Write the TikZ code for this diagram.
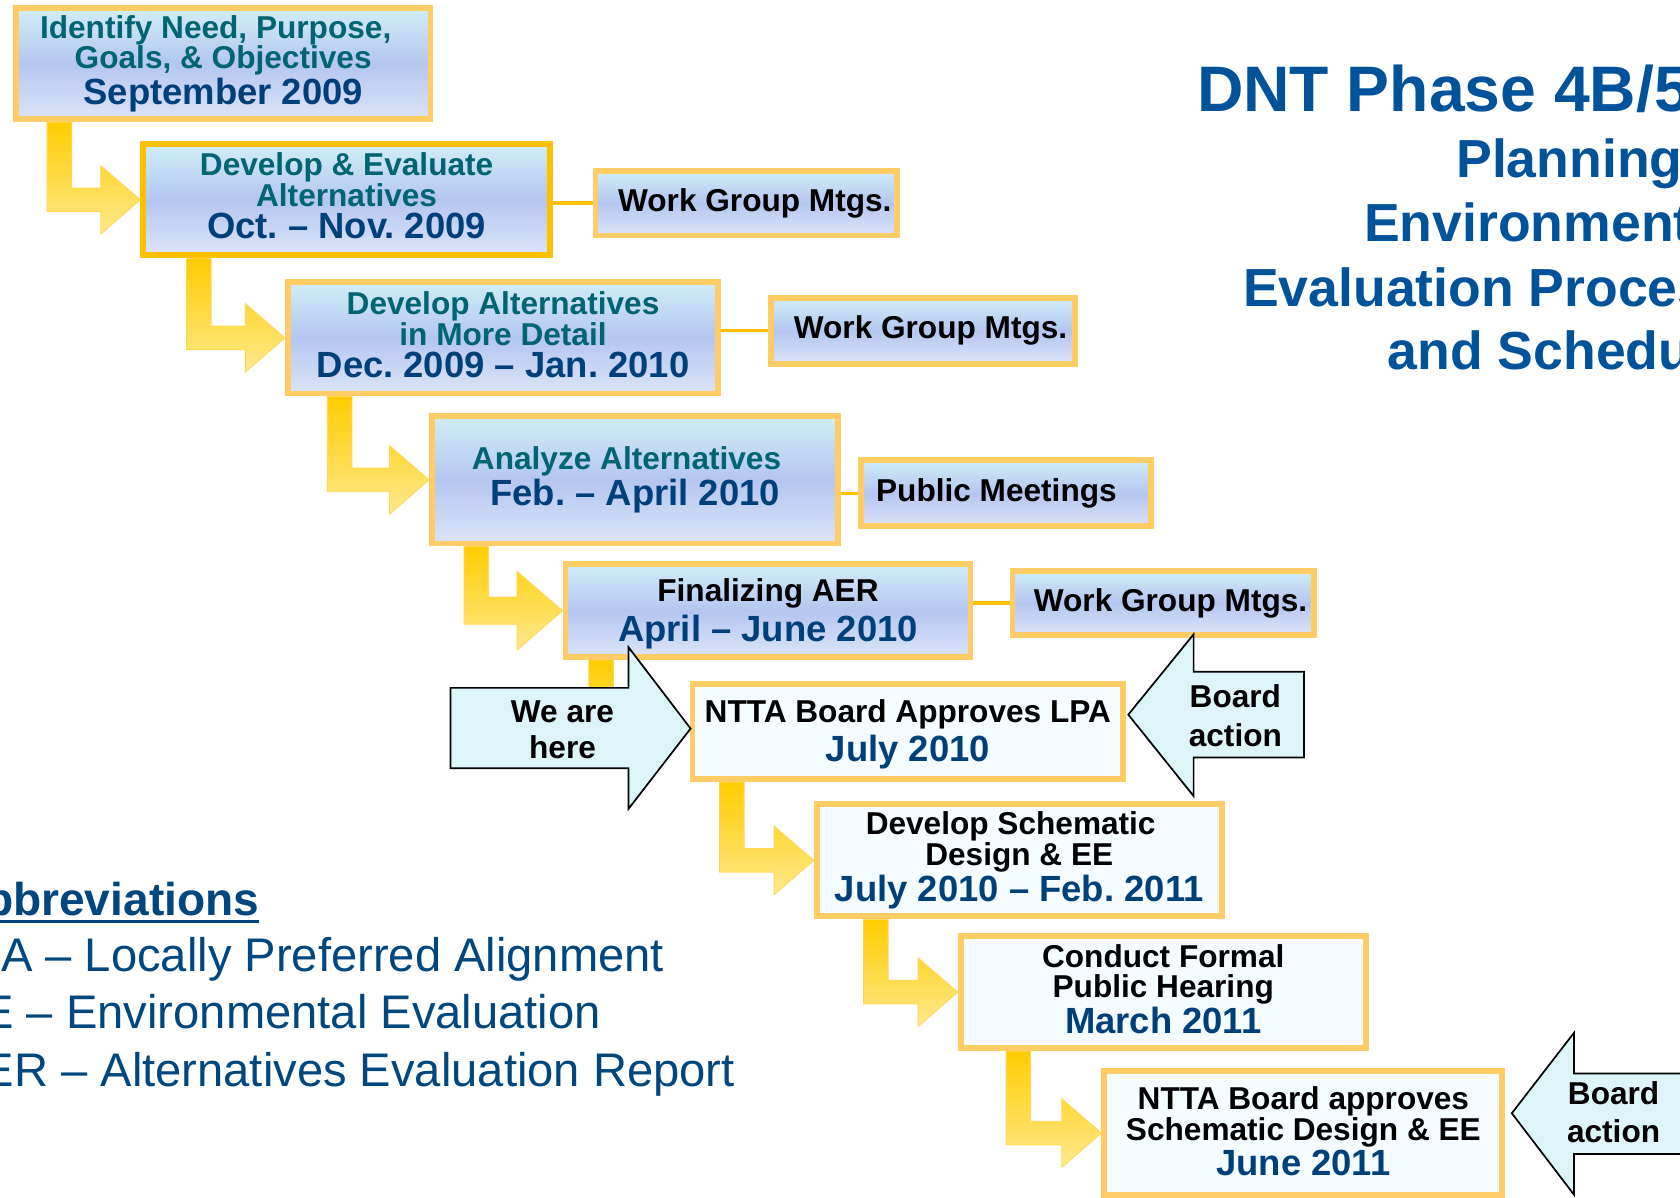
\documentclass[tikz,border=0pt]{standalone}
\usepackage{fontspec}
\setmainfont{Liberation Sans}
\usepackage{tikz}
\usetikzlibrary{calc, backgrounds}
\frenchspacing

\definecolor{boxorange}{RGB}{255,204,102}
\definecolor{boxgold}{RGB}{255,192,0}
\definecolor{steptop}{RGB}{208,238,248}
\definecolor{stepmid}{RGB}{180,198,240}
\definecolor{stepbot}{RGB}{220,228,248}
\definecolor{lowfill}{RGB}{245,252,255}
\definecolor{stepteal}{RGB}{0,100,115}
\definecolor{datenavy}{RGB}{0,64,122}
\definecolor{titleblue}{RGB}{0,82,155}
\definecolor{abbrnavy}{RGB}{0,70,127}
\definecolor{arrowgold}{RGB}{255,204,0}
\definecolor{arrowpale}{RGB}{255,233,140}
\definecolor{arrowedge}{RGB}{255,216,90}
\definecolor{callcyan}{RGB}{221,244,248}
\pgfdeclareverticalshading{stepshade}{100bp}{color(0bp)=(stepbot); color(25bp)=(stepbot); color(50bp)=(stepmid); color(75bp)=(steptop); color(100bp)=(steptop)}

\begin{document}
\begin{tikzpicture}[x=1pt, y=-1pt,
        phasebox/.style={draw=boxorange, line width=5.5pt, align=center, inner sep=0pt, font=\fontsize{29.5pt}{28.5pt}\selectfont\bfseries},
        stepbox/.style={phasebox, shading=stepshade, shade},
        lowbox/.style={phasebox, fill=lowfill},
        sideline/.style={draw=boxgold, line width=3pt},
        bendarrow/.style={top color=arrowgold, bottom color=arrowpale, draw=arrowedge, line width=0.8pt},
        callout/.style={fill=callcyan, draw=black, line width=1.6pt, line join=miter},
        calltext/.style={align=center, inner sep=0pt, font=\fontsize{29.5pt}{#1}\selectfont\bfseries},
        titletext/.style={anchor=base west, inner sep=0pt, text=titleblue, font=\fontsize{#1}{#1}\selectfont\bfseries},
        abbrtext/.style={anchor=base east, inner sep=0pt, text=abbrnavy, font=\fontsize{44pt}{44pt}\selectfont}
    ]
        \useasboundingbox (0,0) rectangle (1568,1118);
        \newcommand{\datefont}{\fontsize{34pt}{28.5pt}\selectfont\color{datenavy}}
        \newcommand{\phaseThree}[4]{{\color{#4}#1}\\{\color{#4}#2}\\[1.5pt]{\datefont #3}}
        \newcommand{\phaseTwo}[4]{{\color{#3}#1}\\[#4]{\datefont #2}}
        % [size], source, target, distance of the bar from the target
        \newcommand{\bendarrow}[4][1]{\coordinate (barx) at ($(#3.west)+(-#4,0)$);
            \path[bendarrow] (barx |- #2.south) -- ([xshift=23pt]barx |- #2.south) -- ($(barx)+(23,-11*#1)$) -- ($(#3.west)+(-37*#1,-11*#1)$) -- ($(#3.west)+(-37*#1,-32*#1)$) -- (#3.west) -- ($(#3.west)+(-37*#1,32*#1)$) -- ($(#3.west)+(-37*#1,11*#1)$) -- ($(barx)+(0,11*#1)$) -- cycle;}

        \node[stepbox, minimum width=387pt, minimum height=103.5pt] (need1) at (208.3,59.5) {\phaseThree{Identify Need, Purpose,\hspace*{14pt}}{Goals, \& Objectives}{September 2009}{stepteal}};
        \node[stepbox, draw=boxgold, minimum width=379.5pt, minimum height=103.5pt, text depth=8pt] (develop1) at (323.5,186.5) {\phaseThree{Develop \& Evaluate}{Alternatives}{Oct. – Nov. 2009}{stepteal}};
        \node[stepbox, minimum width=401.5pt, minimum height=104pt, text depth=5.5pt] (detail1) at (469.5,315.3) {\phaseThree{Develop Alternatives}{in More Detail}{Dec. 2009 – Jan. 2010}{stepteal}};
        \node[stepbox, minimum width=379pt, minimum height=118.8pt] (analyze1) at (592.8,447.9) {\phaseTwo{Analyze Alternatives\hspace*{16pt}}{Feb. – April 2010}{stepteal}{1.5pt}};
        \node[stepbox, minimum width=378pt, minimum height=86.5pt, text depth=1pt] (finalize1) at (716.8,570) {\phaseTwo{Finalizing AER}{April – June 2010}{black}{5.5pt}};
        \node[lowbox, minimum width=402pt, minimum height=88.5pt, text depth=2pt] (approve1) at (847.3,683) {\phaseTwo{NTTA Board Approves LPA}{July 2010}{black}{4.5pt}};
        \node[lowbox, minimum width=378pt, minimum height=104.5pt] (schematic1) at (951.3,803) {\phaseThree{Develop Schematic\hspace*{16pt}}{Design \& EE}{July 2010 – Feb. 2011}{black}};
        \node[lowbox, minimum width=378pt, minimum height=104.5pt, text depth=6pt] (hearing1) at (1085.7,926) {\phaseThree{Conduct Formal}{Public Hearing}{March 2011}{black}};
        \node[lowbox, minimum width=371.5pt, minimum height=115.5pt, text depth=4pt] (approve2) at (1216.5,1057.5) {\phaseThree{NTTA Board approves}{Schematic Design \& EE}{June 2011}{black}};

        \node[stepbox, minimum width=281.5pt, minimum height=60.5pt] (wgmtg1) at (696.5,189.5) {\hspace*{16pt}Work Group Mtgs.};
        \node[stepbox, minimum width=283.5pt, minimum height=62pt] (wgmtg2) at (861.5,308.8) {\hspace*{14pt}Work Group Mtgs.};
        \node[stepbox, minimum width=270.5pt, minimum height=62pt] (pubmtg1) at (939,460.3) {Public Meetings\hspace*{18pt}};
        \node[stepbox, minimum width=281pt, minimum height=60pt] (wgmtg3) at (1085.5,562.8) {\hspace*{14pt}Work Group Mtgs.};
        \draw[sideline] (wgmtg1.west -| develop1.east) -- (wgmtg1.west);
        \draw[sideline] (wgmtg2.west -| detail1.east) -- (wgmtg2.west);
        \draw[sideline] (pubmtg1.west -| analyze1.east) -- (pubmtg1.west);
        \draw[sideline] (wgmtg3.west -| finalize1.east) -- (wgmtg3.west);

        \begin{pgfonlayer}{background}
            \fill[white] (0,0) rectangle (1568,1118);
            \bendarrow{need1}{develop1}{87}
            \bendarrow{develop1}{detail1}{92}
            \bendarrow{detail1}{analyze1}{95}
            \bendarrow[1.15]{analyze1}{finalize1}{92}
            \bendarrow{finalize1}{approve1}{94}
            \bendarrow{approve1}{schematic1}{88}
            \bendarrow{schematic1}{hearing1}{88}
            \bendarrow{hearing1}{approve2}{89}
        \end{pgfonlayer}

        \draw[callout] ($(approve1.west)+(1,-3)$) -- ++(-58,-76) -- ++(0,38) -- ++(-166,0) -- ++(0,75) -- ++(166,0) -- ++(0,38) -- cycle;
        \node[calltext=34pt] (here1) at (525,681) {We are\\here};
        \draw[callout] ($(approve1.east)+(2,-16)$) -- ++(61,-75) -- ++(0,35) -- ++(103,0) -- ++(0,80) -- ++(-103,0) -- ++(0,36) -- cycle;
        \node[calltext=36pt] (board1) at (1153,668) {Board\\action};
        \draw[callout] ($(approve2.east)+(6,-18.5)$) -- ++(58,-75) -- ++(0,38) -- ++(150,0) -- ++(0,75) -- ++(-150,0) -- ++(0,38) -- cycle;
        \node[calltext=35pt] (board2) at (1506,1038) {Board\\action};

        \node[titletext=60pt] (title1) at (1117,104) {DNT Phase 4B/5};
        \node[titletext=50pt] (title2) at (1359,166) {Planning};
        \node[titletext=50pt] (title3) at (1273,225.6) {Environment};
        \node[titletext=50pt] (title4) at (1160,286) {Evaluation Proces};
        \node[titletext=50pt] (title5) at (1295,345) {and Schedu};

        \node[abbrtext, font=\fontsize{43pt}{43pt}\selectfont\bfseries] (abbr0) at (242,854) {bbreviations};
        \draw[abbrnavy, line width=3pt] ([yshift=-6pt]abbr0.base west) -- ([yshift=-6pt]abbr0.base east);
        \node[abbrtext] (abbr1) at (620,907) {A – Locally Preferred Alignment};
        \node[abbrtext] (abbr2) at (561,960) {E – Environmental Evaluation};
        \node[abbrtext] (abbr3) at (686,1014) {ER – Alternatives Evaluation Report};
    \end{tikzpicture}
\end{document}
